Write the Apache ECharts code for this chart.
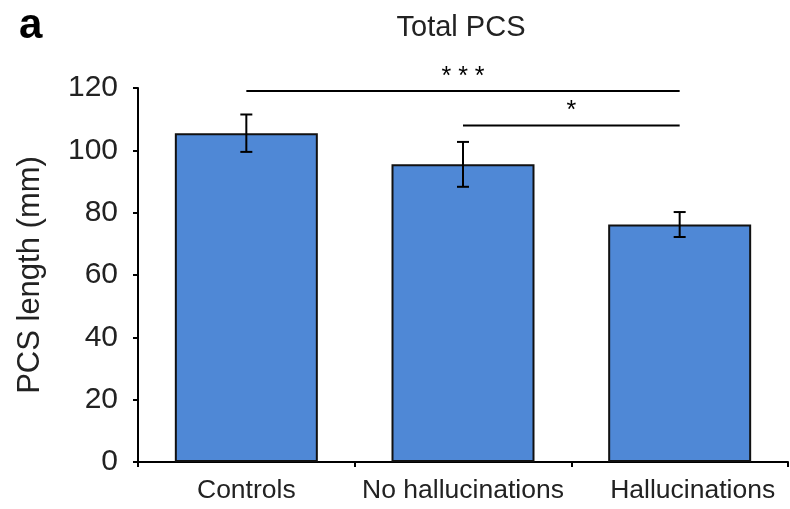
<!DOCTYPE html>
<html>
<head>
<meta charset="utf-8">
<script src="https://cdn.jsdelivr.net/npm/echarts@6/dist/echarts.min.js"></script>
<style>
  html, body { margin: 0; padding: 0; background: #fff; }
  #chart { width: 790px; height: 509px; }
</style>
</head>
<body>
<div id="chart"></div>
<script>
const categories = ['Controls', 'No hallucinations', 'Hallucinations']
const means = [105.5, 95.5, 76.2]
const errors = [6.0, 7.2, 4.0]
const yTicks = { min: 0, max: 120, interval: 20 }
// [from category, to category, bar height, stars]
const sigPairs = [
  [0, 2, 119, '* * *'],
  [1, 2, 108, '*'],
]

const font = '"Liberation Sans", Arial, Helvetica, sans-serif'
const barColor = '#4f88d6'

const chart = echarts.init(document.getElementById('chart'))

chart.setOption({
  animation: false,
  backgroundColor: '#fff',
  title: [
    {
      text: 'a',
      left: 14,
      top: 0,
      textStyle: { fontFamily: font, fontSize: 42, fontWeight: 'bold', color: '#000' },
    },
    {
      text: 'Total PCS',
      left: 456,
      top: 8,
      textAlign: 'center',
      textStyle: { fontFamily: font, fontSize: 29, fontWeight: 'normal', color: '#222' },
    },
  ],
  grid: { left: 138, right: 2, top: 88, bottom: 47 },
  xAxis: {
    type: 'category',
    data: categories,
    axisLine: { lineStyle: { color: '#000', width: 2 } },
    axisTick: { show: true, length: 5, lineStyle: { color: '#000', width: 2 } },
    axisLabel: {
      color: '#222',
      fontFamily: font,
      fontSize: 26.5,
      margin: 15,
      interval: 0,
      hideOverlap: false,
      // last label sits a little right of its bar in the original
      formatter: (v, i) => (i === categories.length - 1 ? '{shift|' + v + '}' : v),
      rich: { shift: { fontFamily: font, fontSize: 26.5, color: '#222', padding: [0, 0, 0, 26] } },
    },
  },
  yAxis: {
    type: 'value',
    ...yTicks,
    name: 'PCS length (mm)',
    nameLocation: 'middle',
    nameGap: 92,
    nameTextStyle: { color: '#222', fontFamily: font, fontSize: 31 },
    axisLine: { show: true, lineStyle: { color: '#000', width: 2 } },
    axisTick: { show: true, length: 5, lineStyle: { color: '#000', width: 2 } },
    axisLabel: { color: '#222', fontFamily: font, fontSize: 30, margin: 20 },
    splitLine: { show: false },
  },
  series: [
    {
      type: 'bar',
      data: means,
      barWidth: '66%',
      itemStyle: { color: barColor, borderColor: '#111', borderWidth: 2 },
    },
    {
      type: 'custom',
      data: means.map((m, i) => [i, m - errors[i], m + errors[i]]),
      renderItem(params, api) {
        const lo = api.coord([api.value(0), api.value(1)])
        const hi = api.coord([api.value(0), api.value(2)])
        const w = 6
        const style = { stroke: '#000', lineWidth: 2 }
        return {
          type: 'group',
          children: [
            { type: 'line', shape: { x1: hi[0], y1: hi[1], x2: lo[0], y2: lo[1] }, style },
            { type: 'line', shape: { x1: hi[0] - w, y1: hi[1], x2: hi[0] + w, y2: hi[1] }, style },
            { type: 'line', shape: { x1: lo[0] - w, y1: lo[1], x2: lo[0] + w, y2: lo[1] }, style },
          ],
        }
      },
      z: 5,
    },
    {
      type: 'custom',
      data: sigPairs,
      renderItem(params, api) {
        const a = api.coord([api.value(0), api.value(2)])
        const b = api.coord([api.value(1), api.value(2)])
        const stars = sigPairs[params.dataIndex][3]
        return {
          type: 'group',
          children: [
            { type: 'line', shape: { x1: a[0], y1: a[1], x2: b[0], y2: b[1] }, style: { stroke: '#000', lineWidth: 2 } },
            {
              type: 'text',
              style: {
                text: stars,
                x: (a[0] + b[0]) / 2,
                y: a[1] - 2,
                align: 'center',
                verticalAlign: 'bottom',
                font: '25px ' + font,
                fill: '#000',
              },
            },
          ],
        }
      },
      z: 5,
    },
  ],
})
</script>
</body>
</html>
